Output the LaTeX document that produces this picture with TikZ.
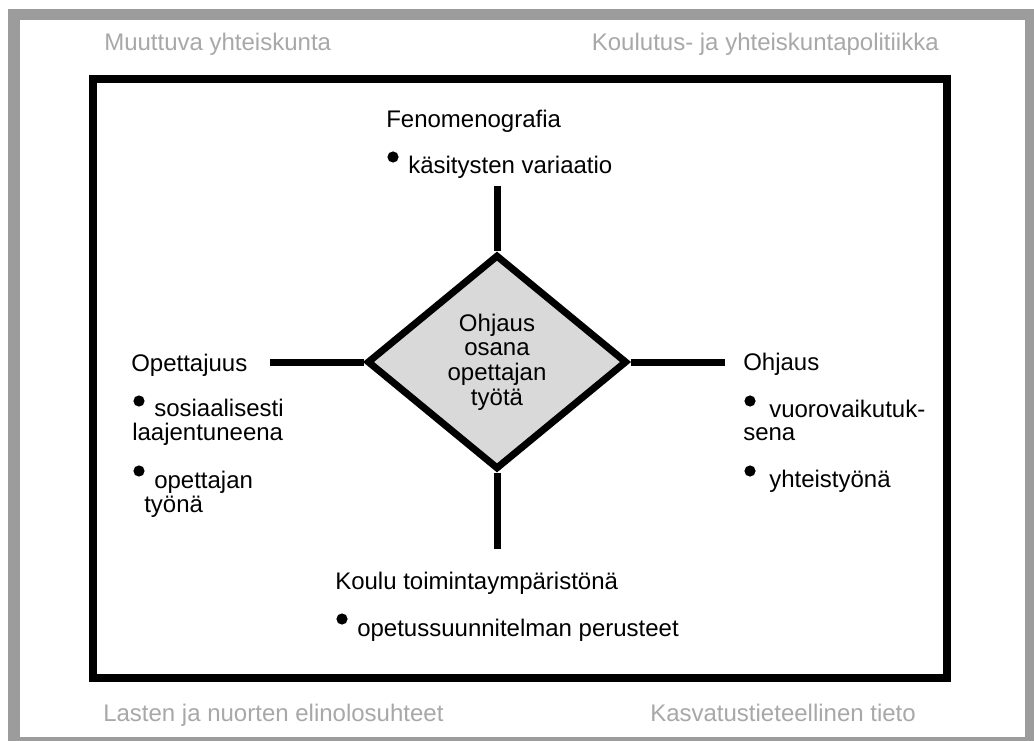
\documentclass[tikz,border=0pt]{standalone}
\usepackage{fontspec}
\setmainfont{Liberation Sans}
\usepackage{xcolor}
\usepackage{tikz}
\usetikzlibrary{shapes.geometric}
\definecolor{framegray}{HTML}{9C9C9C}
\definecolor{muted}{HTML}{A8A8A8}
\definecolor{core}{HTML}{D9D9D9}
\tikzset{
  stem/.style={draw=black, line width=5.25pt},
  box/.style={draw=black, line width=6pt},
  lab/.style={text=black, inner sep=0pt, anchor=base west, font=\fontsize{18pt}{18pt}\selectfont},
  ctx/.style={lab, text=muted},
  dot/.style={circle, fill=black, inner sep=0pt, minimum size=8.4pt},
  core/.style={diamond, draw=black, fill=core, line width=5.25pt, inner sep=0pt,
    minimum width=195pt, minimum height=161pt, align=center,
    font=\fontsize{18pt}{18.5pt}\selectfont},
}

\begin{document}
\begin{tikzpicture}[x=0.75pt, y=-0.75pt]
  \useasboundingbox (0,0) rectangle (1034,741);

  % outer frame and context labels
  \fill[framegray] (8,9) rectangle (1034,741);
  \fill[white] (20,20) rectangle (1025,737);
  \node[ctx] (society) at (104,51) {Muuttuva yhteiskunta};
  \node[ctx, anchor=base east] (policy) at (939,51) {Koulutus- ja yhteiskuntapolitiikka};
  \node[ctx] (youth) at (103,721) {Lasten ja nuorten elinolosuhteet};
  \node[ctx] (science) at (650,721) {Kasvatustieteellinen tieto};

  \draw[box] (93,79.5) rectangle (947,677.5);

  % centre
  \node[core] (guid) at (497,362) {Ohjaus\\osana\\opettajan\\työtä};
  \coordinate (topend) at (497,186);
  \coordinate (botend) at (497,549);
  \coordinate (leftend) at (270,362);
  \coordinate (rightend) at (725,362);
  \draw[stem] (topend) -- (guid.north);
  \draw[stem] (guid.south) -- (botend);
  \draw[stem] (leftend) -- (guid.west);
  \draw[stem] (guid.east) -- (rightend);

  % top
  \node[lab] (feno) at (386,128) {Fenomenografia};
  \node[dot] (fenodot) at (393,157) {};
  \node[lab] (feno1) at (408,174) {käsitysten variaatio};

  % left
  \node[lab] (teach) at (131,371) {Opettajuus};
  \node[dot] (teachdot1) at (139,401) {};
  \node[lab] (teach1) at (154,416) {sosiaalisesti};
  \node[lab] (teach1b) at (132,440) {laajentuneena};
  \node[dot] (teachdot2) at (139,471) {};
  \node[lab] (teach2) at (154,488) {opettajan};
  \node[lab] (teach2b) at (144,512) {työnä};

  % right
  \node[lab] (guide) at (743,370) {Ohjaus};
  \node[dot] (guidedot1) at (750,401) {};
  \node[lab] (guide1) at (769,417) {vuorovaikutuk-};
  \node[lab] (guide1b) at (743,440) {sena};
  \node[dot] (guidedot2) at (750,471) {};
  \node[lab] (guide2) at (769,487) {yhteistyönä};

  % bottom
  \node[lab] (school) at (335,589) {Koulu toimintaympäristönä};
  \node[dot] (schooldot) at (342,619) {};
  \node[lab] (school1) at (357,636) {opetussuunnitelman perusteet};
\end{tikzpicture}
\end{document}
